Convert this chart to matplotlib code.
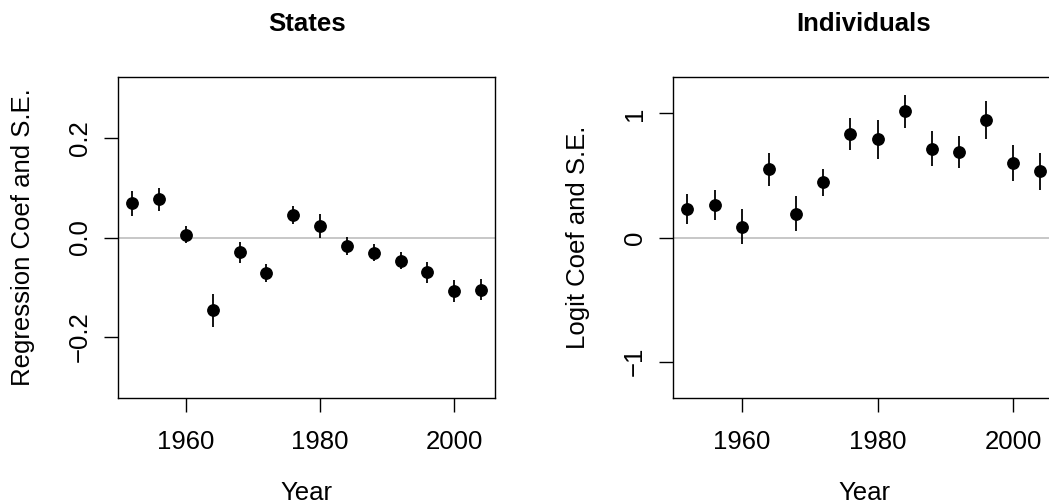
import matplotlib
matplotlib.use("Agg")
import matplotlib.pyplot as plt
import numpy as np

plt.rcParams['font.family'] = ['Liberation Sans', 'DejaVu Sans']

years = [1952, 1956, 1960, 1964, 1968, 1972, 1976, 1980, 1984, 1988, 1992, 1996, 2000, 2004]

states_coef = [0.069, 0.077, 0.006, -0.147, -0.030, -0.071, 0.045, 0.024, -0.017, -0.031, -0.047, -0.070, -0.108, -0.105]
states_se = [0.025, 0.023, 0.018, 0.033, 0.021, 0.018, 0.018, 0.024, 0.018, 0.017, 0.017, 0.021, 0.022, 0.021]

indiv_coef = [0.230, 0.262, 0.088, 0.550, 0.193, 0.445, 0.834, 0.791, 1.019, 0.716, 0.689, 0.944, 0.600, 0.534]
indiv_se = [0.122, 0.120, 0.142, 0.133, 0.143, 0.111, 0.128, 0.157, 0.133, 0.140, 0.127, 0.153, 0.142, 0.150]

xticks = [1960, 1980, 2000]
states_yticks = [-0.2, 0.0, 0.2]
states_yticklabels = ['\u22120.2', '0.0', '0.2']
indiv_yticks = [-1, 0, 1]
indiv_yticklabels = ['\u22121', '0', '1']

W, H = 1049, 504
fig = plt.figure(figsize=(W / 100, H / 100), dpi=100)

def px_axes(x0, y0, x1, y1):
    return fig.add_axes([x0 / W, 1 - y1 / H, (x1 - x0) / W, (y1 - y0) / H])

ax1 = px_axes(118.3, 76.7, 495.0, 398.3)
ax2 = px_axes(673.3, 76.7, 1054.6, 398.3)

FS = 18.5

def draw(ax, coef, se, title, ylabel, yticks, yticklabels, ylim, labelpad_y):
    c = np.array(coef)
    s = np.array(se)
    ax.axhline(0, color='#BEBEBE', lw=1.2, zorder=1)
    ax.vlines(years, c - s, c + s, color='black', lw=1.3, zorder=2)
    ax.plot(years, c, 'o', color='black', markersize=8.2, zorder=3)
    span = years[-1] - years[0]
    ax.set_xlim(years[0] - 0.04 * span, years[-1] + 0.04 * span)
    yr = ylim[1] - ylim[0]
    ax.set_ylim(ylim[0] - 0.04 * yr, ylim[1] + 0.04 * yr)
    ax.set_xticks(xticks)
    ax.set_xticklabels([str(t) for t in xticks])
    ax.set_yticks(yticks)
    ax.set_yticklabels(yticklabels, rotation=90, va='center')
    ax.tick_params(axis='both', direction='out', length=10, width=1.0, labelsize=FS)
    ax.tick_params(axis='x', pad=12.5)
    ax.tick_params(axis='y', pad=9)
    for sp in ax.spines.values():
        sp.set_linewidth(1.0)
        sp.set_color('black')
    ax.set_title(title, fontsize=FS, fontweight='bold', pad=33)
    ax.set_xlabel('Year', fontsize=FS, labelpad=20)
    ax.set_ylabel(ylabel, fontsize=FS, labelpad=labelpad_y)

draw(ax1, states_coef, states_se, 'States', 'Regression Coef and S.E.',
     states_yticks, states_yticklabels, (-0.3, 0.3), 24)
draw(ax2, indiv_coef, indiv_se, 'Individuals', 'Logit Coef and S.E.',
     indiv_yticks, indiv_yticklabels, (-1.2, 1.2), 24)

fig.savefig('out.png', dpi=100)
